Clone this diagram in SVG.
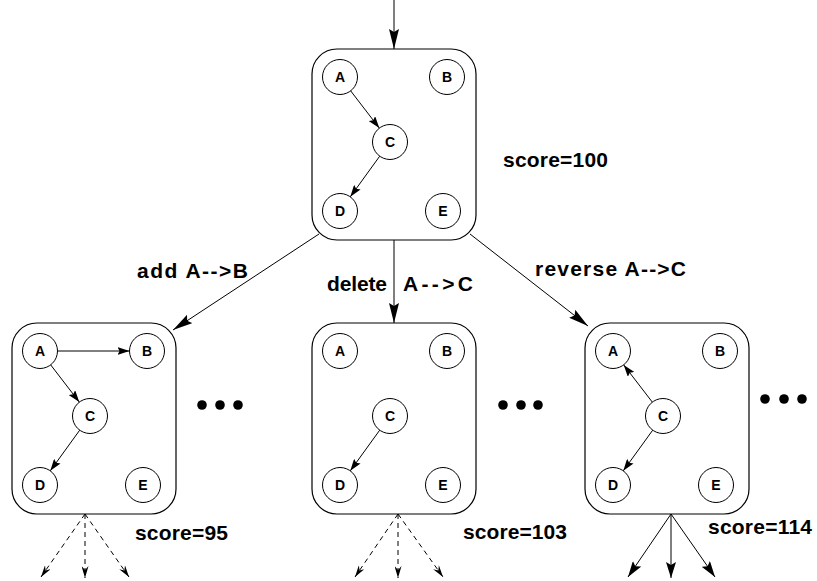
<svg xmlns="http://www.w3.org/2000/svg" width="817" height="581" viewBox="0 0 817 581">
<style>
.box{fill:#fff;stroke:#000;stroke-width:1.2}
.nd{fill:#fff;stroke:#000;stroke-width:1}
.nl{font-family:"Liberation Sans",Arial,sans-serif;font-weight:bold;font-size:14px;text-anchor:middle;fill:#000}
.lb{font-family:"Liberation Sans",Arial,sans-serif;font-weight:bold;font-size:21px;fill:#000}
.e{fill:none;stroke:#000;stroke-width:1}
.dash{stroke-dasharray:5 4}
.dot{fill:#000}
</style>
<defs>
<marker id="ms" markerUnits="userSpaceOnUse" markerWidth="12" markerHeight="8" refX="12" refY="4" orient="auto"><path d="M0,0 L12,4 L0,8 L2,4 z" fill="#000" stroke="none"/></marker>
<marker id="mb" markerUnits="userSpaceOnUse" markerWidth="20" markerHeight="10" refX="20" refY="5" orient="auto"><path d="M0,0 L20,5 L0,10 L3,5 z" fill="#000" stroke="none"/></marker>
<marker id="mm" markerUnits="userSpaceOnUse" markerWidth="16" markerHeight="10" refX="16" refY="5" orient="auto"><path d="M0,0 L16,5 L0,10 L3,5 z" fill="#000" stroke="none"/></marker>
<marker id="md" markerUnits="userSpaceOnUse" markerWidth="12" markerHeight="7" refX="12" refY="3.5" orient="auto"><path d="M0,0 L12,3.5 L0,7 L4,3.5 z" fill="#000" stroke="none"/></marker>
<g id="tpl">
<rect class="box" x="0" y="0" width="164" height="191" rx="25" ry="25"/>
<circle class="nd" cx="28" cy="28" r="17.5"/><text class="nl" x="28" y="33">A</text>
<circle class="nd" cx="135" cy="28" r="17.5"/><text class="nl" x="135" y="33">B</text>
<circle class="nd" cx="78" cy="93" r="17.5"/><text class="nl" x="78" y="98">C</text>
<circle class="nd" cx="28" cy="162" r="17.5"/><text class="nl" x="28" y="167">D</text>
<circle class="nd" cx="131" cy="162" r="17.5"/><text class="nl" x="131" y="167">E</text>
</g>
</defs>
<g id="root"><use href="#tpl" x="312" y="49"/></g>
<g id="child-add"><use href="#tpl" x="12" y="323"/></g>
<g id="child-delete"><use href="#tpl" x="312" y="323"/></g>
<g id="child-reverse"><use href="#tpl" x="585" y="323"/></g>
<g id="labels">
<text class="lb" x="503" y="167" textLength="105" lengthAdjust="spacing">score=100</text>
<text class="lb" x="137" y="278" textLength="111" lengthAdjust="spacing">add A-->B</text>
<text class="lb" x="327" y="291" textLength="60" lengthAdjust="spacing">delete</text>
<text class="lb" x="403" y="291" textLength="70" lengthAdjust="spacing">A-->C</text>
<text class="lb" x="535" y="276" textLength="151" lengthAdjust="spacing">reverse A-->C</text>
<text class="lb" x="135" y="540" textLength="93" lengthAdjust="spacing">score=95</text>
<text class="lb" x="463" y="539" textLength="104" lengthAdjust="spacing">score=103</text>
<text class="lb" x="708" y="534" textLength="104" lengthAdjust="spacing">score=114</text>
</g>
<g id="ellipses">
<circle class="dot" cx="202" cy="405" r="4.8"/><circle class="dot" cx="220" cy="405" r="4.8"/><circle class="dot" cx="238" cy="405" r="4.8"/>
<circle class="dot" cx="503" cy="405" r="4.8"/><circle class="dot" cx="521" cy="405" r="4.8"/><circle class="dot" cx="538" cy="405" r="4.8"/>
<circle class="dot" cx="765" cy="399" r="4.8"/><circle class="dot" cx="784" cy="399" r="4.8"/><circle class="dot" cx="802" cy="399" r="4.8"/>
</g>
<g id="connectors">
<path class="e" d="M394,0 L394,49" marker-end="url(#mb)"/>
<path class="e" d="M319,234 L173,330" marker-end="url(#mb)"/>
<path class="e" d="M394,240 L394,323" marker-end="url(#mb)"/>
<path class="e" d="M470,234 L588,326" marker-end="url(#mb)"/>
<path class="e" d="M350.7,90.9 L379.3,128.1" marker-end="url(#ms)"/>
<path class="e" d="M379.7,156.2 L350.3,196.8" marker-end="url(#ms)"/>
<path class="e" d="M57.5,351 L129.5,351" marker-end="url(#ms)"/>
<path class="e" d="M50.7,364.9 L79.3,402.1" marker-end="url(#ms)"/>
<path class="e" d="M79.7,430.2 L50.3,470.8" marker-end="url(#ms)"/>
<path class="e" d="M379.7,430.2 L350.3,470.8" marker-end="url(#ms)"/>
<path class="e" d="M652.3,402.1 L623.7,364.9" marker-end="url(#ms)"/>
<path class="e" d="M652.7,430.2 L623.3,470.8" marker-end="url(#ms)"/>
<path class="e dash" d="M85,514 L41,577" marker-end="url(#md)"/>
<path class="e dash" d="M85,514 L85,578" marker-end="url(#md)"/>
<path class="e dash" d="M85,514 L129,577" marker-end="url(#md)"/>
<path class="e dash" d="M398,514 L355,577" marker-end="url(#md)"/>
<path class="e dash" d="M398,514 L398,578" marker-end="url(#md)"/>
<path class="e dash" d="M398,514 L443,577" marker-end="url(#md)"/>
<path class="e" d="M671,514 L628,577" marker-end="url(#mm)"/>
<path class="e" d="M671,514 L671,578" marker-end="url(#mm)"/>
<path class="e" d="M671,514 L715,577" marker-end="url(#mm)"/>
</g>
</svg>
